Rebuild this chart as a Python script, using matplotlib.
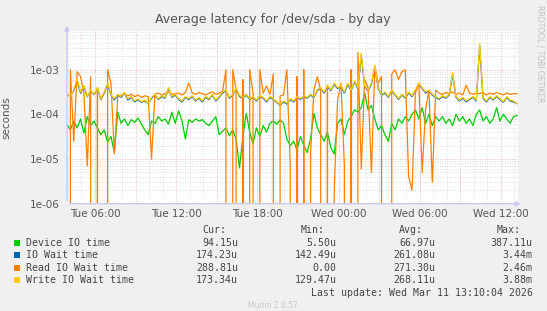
import numpy as np
import pandas as pd
import matplotlib
matplotlib.use("Agg")
import matplotlib.pyplot as plt
import matplotlib.dates as mdates
from matplotlib.ticker import FixedLocator, FuncFormatter, LogLocator, NullFormatter

# samples every 15 minutes, values in microseconds (0 = no reads)
start = "2026-03-10 03:56"
step = "15min"

device_us = [59, 45, 71, 50, 79, 38, 89, 56, 71, 50,
             35, 45, 24, 32, 14, 112, 63, 79, 56, 76,
             66, 83, 60, 45, 35, 71, 63, 89, 71, 79,
             60, 112, 63, 120, 71, 28, 76, 66, 79, 71,
             76, 63, 56, 71, 89, 35, 42, 50, 33, 45,
             28, 6.3, 32, 105, 40, 22, 50, 32, 56, 40,
             63, 71, 60, 76, 63, 28, 20, 25, 16, 32,
             20, 14, 28, 105, 50, 35, 25, 40, 18, 13,
             63, 79, 35, 71, 89, 126, 112, 141, 300, 126,
             158, 79, 45, 56, 35, 25, 63, 45, 79, 63,
             89, 71, 100, 126, 79, 141, 63, 100, 56, 89,
             71, 89, 63, 79, 56, 100, 71, 89, 63, 79,
             56, 100, 126, 71, 89, 63, 79, 141, 71, 100,
             79, 63, 89, 94]

iowait_us = [270, 260, 340, 560, 300, 420, 245, 340, 275, 380,
             215, 300, 470, 270, 210, 270, 240, 300, 210, 240,
             190, 215, 185, 200, 175, 230, 270, 215, 250, 230,
             380, 240, 270, 215, 190, 240, 215, 250, 200, 230,
             190, 240, 215, 270, 200, 240, 300, 340, 230, 270,
             380, 250, 230, 270, 215, 240, 200, 250, 230, 190,
             240, 215, 185, 160, 190, 170, 215, 190, 240, 215,
             250, 230, 270, 240, 340, 380, 300, 420, 340, 470,
             380, 420, 300, 470, 340, 530, 380, 2100, 420, 340,
             470, 1150, 380, 270, 300, 240, 340, 270, 215, 270,
             230, 300, 250, 340, 470, 380, 300, 340, 270, 240,
             215, 250, 230, 270, 800, 240, 200, 230, 190, 215,
             240, 200, 3440, 230, 190, 240, 210, 250, 215, 185,
             240, 200, 190, 174]

read_us = [0, 1000, 25, 900, 700, 300, 7, 700, 0, 400,
           0, 0, 1000, 500, 13, 250, 270, 290, 260, 280,
           250, 270, 240, 260, 250, 10, 280, 300, 270, 290,
           320, 280, 290, 300, 270, 310, 500, 300, 280, 310,
           290, 270, 300, 320, 280, 300, 330, 1000, 0, 1000,
           350, 0, 600, 0, 1000, 300, 0, 1000, 300, 430,
           280, 800, 0, 260, 270, 1000, 7, 0, 700, 0,
           1000, 0, 14, 350, 700, 350, 0, 450, 0, 2,
           210, 500, 7, 0, 1000, 0, 2455, 6, 600, 400,
           5, 1200, 500, 700, 0, 0, 800, 1000, 600, 900,
           1000, 4, 2, 300, 500, 5, 126, 350, 3, 350,
           300, 280, 310, 290, 320, 280, 300, 270, 450, 300,
           280, 300, 290, 310, 270, 300, 280, 310, 290, 270,
           300, 280, 290, 289]

write_us = [282, 251, 355, 631, 316, 447, 251, 355, 282, 398,
            224, 316, 501, 282, 224, 282, 251, 316, 224, 251,
            200, 224, 191, 209, 178, 240, 282, 224, 263, 240,
            398, 251, 282, 224, 200, 251, 224, 263, 209, 240,
            200, 251, 224, 282, 209, 251, 316, 355, 240, 282,
            398, 263, 240, 282, 224, 251, 209, 263, 240, 200,
            251, 224, 191, 166, 200, 178, 224, 200, 251, 224,
            263, 240, 282, 251, 355, 398, 316, 447, 355, 501,
            398, 447, 316, 501, 355, 562, 398, 2344, 447, 355,
            501, 1259, 398, 282, 316, 251, 355, 282, 224, 282,
            240, 316, 263, 355, 501, 398, 316, 355, 282, 251,
            224, 263, 240, 282, 851, 251, 209, 240, 200, 224,
            251, 209, 3880, 240, 200, 251, 219, 263, 224, 191,
            251, 209, 200, 173]

series = [device_us, iowait_us, read_us, write_us]
names = ["Device IO time", "IO Wait time", "Read IO Wait time", "Write IO Wait time"]
colors = ["#00cc00", "#0066b3", "#ff8000", "#ffcc00"]
cur_vals = ["94.15u", "174.23u", "288.81u", "173.34u"]
min_vals = ["5.50u", "142.49u", "0.00", "129.47u"]
avg_vals = ["66.97u", "261.08u", "271.30u", "268.11u"]
max_vals = ["387.11u", "3.44m", "2.46m", "3.88m"]

W, H = 547, 311
fig = plt.figure(figsize=(W / 100, H / 100), dpi=100, facecolor="#f0f0f0")
ax = fig.add_axes([67 / W, 1 - 203.7 / H, 451 / W, 173 / H])
ax.set_facecolor("white")

for vals, c in zip(series, colors):
    t = pd.date_range(start, periods=len(vals), freq=step)
    ax.plot(t, np.array(vals, dtype=float) * 1e-6, color=c, lw=0.9)

ax.set_yscale("log", nonpositive="clip")
ax.set_ylim(1e-6, 7.46e-3)
ax.set_xlim(pd.Timestamp("2026-03-10 03:56"), pd.Timestamp("2026-03-11 13:16"))

ax.yaxis.set_major_locator(FixedLocator([1e-6, 1e-5, 1e-4, 1e-3]))
ax.yaxis.set_major_formatter(FuncFormatter(lambda v, p: "%.0e" % v))
ax.yaxis.set_minor_locator(LogLocator(base=10, subs=np.arange(2, 10)))
ax.yaxis.set_minor_formatter(NullFormatter())

ax.xaxis.set_major_locator(mdates.HourLocator(byhour=range(0, 24, 3)))
ax.xaxis.set_minor_locator(mdates.HourLocator())


def xlab(v, p):
    d = mdates.num2date(v)
    return d.strftime("%a %H:%M") if d.hour % 6 == 0 else ""


ax.xaxis.set_major_formatter(FuncFormatter(xlab))

ax.set_axisbelow(True)
ax.grid(which="minor", color="#d0d0d0", linestyle=(0, (1, 2)), lw=0.6)
ax.grid(which="major", color="#e8a0a0", linestyle=(0, (1, 2)), lw=0.6)
ax.tick_params(which="both", length=0, labelsize=7.5, colors="#555555")
ax.tick_params(axis="x", pad=4)
ax.tick_params(axis="y", pad=5)

for s in ax.spines.values():
    s.set_visible(False)
axis_col = "#c8c8f0"
ax.annotate("", xy=(0, 1.045), xytext=(0, 0), xycoords="axes fraction",
            arrowprops=dict(arrowstyle="-|>", color=axis_col, lw=1, mutation_scale=7))
ax.annotate("", xy=(1.012, 0), xytext=(0, 0), xycoords="axes fraction",
            arrowprops=dict(arrowstyle="-|>", color=axis_col, lw=1, mutation_scale=7))

ax.set_ylabel("seconds", fontsize=7.5, color="#555555")
ax.yaxis.set_label_coords(-(67 - 11) / 451, 0.5)
fig.text(273 / W, 1 - 20 / H, "Average latency for /dev/sda - by day",
         ha="center", va="center", fontsize=9, color="#555555")
fig.text(540 / W, 1 - 5 / H, "RRDTOOL / TOBI OETIKER", rotation=270,
         ha="center", va="top", fontsize=5.5, color="#c0c0c0")

mono = dict(family="DejaVu Sans Mono", fontsize=7.1, color="#444444", va="center")
col_right = [238, 336.6, 435, 532.6]
heads = ["Cur:", "Min:", "Avg:", "Max:"]
for xr, h in zip(col_right, heads):
    fig.text((xr - 12) / W, 1 - 230 / H, h, ha="right", **mono)

rows_y = [242.8, 255.2, 267.6, 280]
for y, n, c, a, b, m, x in zip(rows_y, names, colors, cur_vals, min_vals, avg_vals, max_vals):
    fig.patches.append(plt.Rectangle((14 / W, 1 - (y + 3) / H), 6 / W, 6 / H,
                                     transform=fig.transFigure, facecolor=c,
                                     edgecolor="none"))
    fig.text(26 / W, 1 - y / H, n, ha="left", **mono)
    for xr, v in zip(col_right, [a, b, m, x]):
        fig.text(xr / W, 1 - y / H, v, ha="right", **mono)

fig.text(532.6 / W, 1 - 292.7 / H, "Last update: Wed Mar 11 13:10:04 2026", ha="right", **mono)
fig.text(273 / W, 1 - 305.5 / H, "Munin 2.0.57", ha="center", va="center",
         fontsize=5.5, color="#c8c8c8")

fig.savefig("out.png", dpi=100, facecolor=fig.get_facecolor())
